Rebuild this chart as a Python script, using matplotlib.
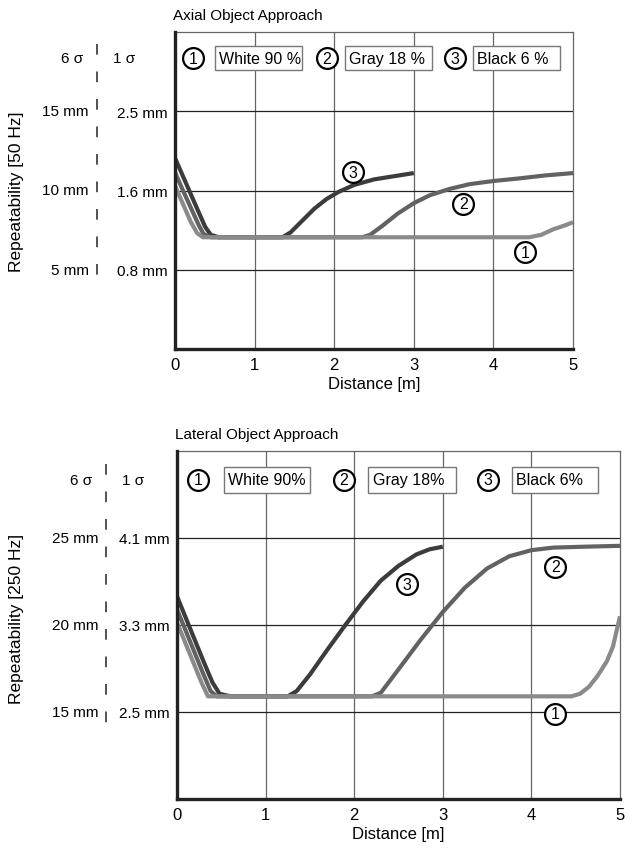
import matplotlib.pyplot as plt
from matplotlib.patches import Rectangle
from matplotlib.lines import Line2D

plt.rcParams['font.family'] = ['Liberation Sans', 'DejaVu Sans']
plt.rcParams['font.size'] = 11

# ---- data: axial approach (y in grid rows, 0..4) ----
ax_x3 = [0, 0.1, 0.2, 0.3, 0.38, 0.45, 0.55, 1.35, 1.45, 1.6, 1.75, 1.9, 2.05, 2.25, 2.5, 2.75, 3.0]
ax_y3 = [2.41, 2.18, 1.95, 1.72, 1.54, 1.44, 1.41, 1.41, 1.47, 1.62, 1.77, 1.89, 1.98, 2.07, 2.14, 2.18, 2.22]
ax_x2 = [0, 0.1, 0.2, 0.3, 0.36, 0.45, 2.35, 2.45, 2.6, 2.8, 3.0, 3.2, 3.45, 3.7, 4.0, 4.3, 4.65, 5.0]
ax_y2 = [2.23, 2.0, 1.78, 1.56, 1.45, 1.41, 1.41, 1.44, 1.55, 1.71, 1.84, 1.94, 2.02, 2.08, 2.12, 2.15, 2.19, 2.22]
ax_x1 = [0, 0.1, 0.2, 0.28, 0.35, 4.45, 4.6, 4.75, 4.9, 5.0]
ax_y1 = [2.06, 1.83, 1.6, 1.46, 1.41, 1.41, 1.44, 1.51, 1.56, 1.60]

# ---- data: lateral approach ----
lat_x3 = [0, 0.1, 0.2, 0.3, 0.4, 0.48, 0.6, 1.25, 1.35, 1.5, 1.7, 1.9, 2.1, 2.3, 2.5, 2.7, 2.85, 3.0]
lat_y3 = [2.33, 2.08, 1.83, 1.58, 1.34, 1.21, 1.18, 1.18, 1.24, 1.43, 1.72, 2.0, 2.27, 2.51, 2.68, 2.81, 2.87, 2.90]
lat_x2 = [0, 0.1, 0.2, 0.3, 0.38, 0.45, 2.2, 2.3, 2.5, 2.75, 3.0, 3.25, 3.5, 3.75, 4.0, 4.25, 4.6, 5.0]
lat_y2 = [2.18, 1.93, 1.68, 1.43, 1.24, 1.18, 1.18, 1.22, 1.49, 1.83, 2.15, 2.43, 2.65, 2.79, 2.86, 2.89, 2.90, 2.91]
lat_x1 = [0, 0.1, 0.2, 0.28, 0.35, 4.45, 4.55, 4.65, 4.75, 4.85, 4.92, 5.0]
lat_y1 = [2.03, 1.78, 1.53, 1.33, 1.18, 1.18, 1.21, 1.29, 1.42, 1.58, 1.75, 2.10]

x_ticks = [0, 1, 2, 3, 4, 5]
ax_labels_1s = ['0.8 mm', '1.6 mm', '2.5 mm']
ax_labels_6s = ['5 mm', '10 mm', '15 mm']
lat_labels_1s = ['2.5 mm', '3.3 mm', '4.1 mm']
lat_labels_6s = ['15 mm', '20 mm', '25 mm']
ax_legend = ['White 90 %', 'Gray 18 %', 'Black 6 %']
lat_legend = ['White 90%', 'Gray 18%', 'Black 6%']

colors = {'1': '#8a8a8a', '2': '#626262', '3': '#3c3c3c'}


def circ(ax, x, y, s):
    ax.plot([x], [y], marker='o', ms=15, mfc='white', mec='black', mew=1.6, zorder=6)
    ax.text(x, y, s, ha='center', va='center', fontsize=11.5, zorder=7)


def panel(rect, curves, lab1, lab6, legend, leg_cx, leg_box, marks, title, ylabel, dash_x, six_x, yl_frac):
    ax = fig.add_axes(rect)
    ax.set_xlim(0, 5)
    ax.set_ylim(0, 4)
    for v in [1, 2, 3, 4]:
        ax.axvline(v, color='#666666', lw=0.9, zorder=1)
    for h in [1, 2, 3]:
        ax.axhline(h, color='#222222', lw=0.9, zorder=1)
    for k in ['top', 'right']:
        ax.spines[k].set_color('#666666')
        ax.spines[k].set_linewidth(0.9)
    for k in ['left', 'bottom']:
        ax.spines[k].set_color('#222222')
        ax.spines[k].set_linewidth(2.4)
        ax.spines[k].set_zorder(8)
    ax.set_xticks(x_ticks)
    ax.set_xticklabels([str(t) for t in x_ticks])
    ax.set_yticks([1, 2, 3])
    ax.set_yticklabels(lab1)
    ax.tick_params(length=0, pad=5, labelsize=11)
    ax.tick_params(axis='x', labelsize=12, pad=6)
    ax.set_xlabel('Distance [m]', labelpad=3, fontsize=12)

    for key in ['3', '2', '1']:
        xs, ys = curves[key]
        ax.plot(xs, ys, color=colors[key], lw=3, solid_joinstyle='round',
                solid_capstyle='butt', zorder=3)

    for (x, y, s) in marks:
        circ(ax, x, y, s)

    ly = 3.67
    for i, txt in enumerate(legend):
        circ(ax, leg_cx[i], ly, str(i + 1))
        x0, x1 = leg_box[i]
        ax.add_patch(Rectangle((x0, ly - 0.15), x1 - x0, 0.3, fc='white',
                               ec='#777777', lw=1, zorder=5))
        ax.text(x0 + 0.05, ly, txt, ha='left', va='center', fontsize=11.5, zorder=7)

    # 1 sigma header and 6 sigma column
    tr = ax.get_yaxis_transform()
    fw = fig.get_figwidth() * fig.dpi
    w = rect[2] * fw
    l = rect[0] * fw
    ax.text((dash_x + 16 - l) / w, 3.67, '1 σ', transform=tr, ha='left', va='center')
    ax.text((six_x - 6 - l) / w, 3.67, '6 σ', transform=tr, ha='right', va='center')
    for h, s in zip([1, 2, 3], lab6):
        ax.text((six_x - l) / w, h, s, transform=tr, ha='right', va='center')
    ax.add_line(Line2D([(dash_x - l) / w] * 2, [3.85, 0.75], transform=tr, color='#222222',
                       lw=1.1, linestyle=(0, (7, 11)), clip_on=False))

    ax.text(-0.005, 1.03, title, transform=ax.transAxes, ha='left', va='bottom', fontsize=11)
    fig.text(17 / fw, rect[1] + rect[3] * yl_frac, ylabel, rotation=90, ha='center',
             va='center', fontsize=12.5)
    return ax


fig = plt.figure(figsize=(6.33, 8.53), dpi=100)
H = 853.0
W = 633.0

panel([175 / W, 1 - 350 / H, 398 / W, 317 / H],
      {'1': (ax_x1, ax_y1), '2': (ax_x2, ax_y2), '3': (ax_x3, ax_y3)},
      ax_labels_1s, ax_labels_6s, ax_legend,
      [0.23, 1.91, 3.52], [(0.50, 1.60), (2.14, 3.23), (3.74, 4.84)],
      [(2.24, 2.23, '3'), (3.62, 1.83, '2'), (4.40, 1.22, '1')],
      'Axial Object Approach', 'Repeatability [50 Hz]', 97, 89, 0.50)

panel([177 / W, 1 - 800 / H, 443 / W, 348 / H],
      {'1': (lat_x1, lat_y1), '2': (lat_x2, lat_y2), '3': (lat_x3, lat_y3)},
      lat_labels_1s, lat_labels_6s, lat_legend,
      [0.24, 1.88, 3.51], [(0.53, 1.50), (2.16, 3.15), (3.78, 4.75)],
      [(2.60, 2.47, '3'), (4.27, 2.67, '2'), (4.27, 0.98, '1')],
      'Lateral Object Approach', 'Repeatability [250 Hz]', 106, 98, 0.52)

fig.savefig('out.png', dpi=100, facecolor='white')
